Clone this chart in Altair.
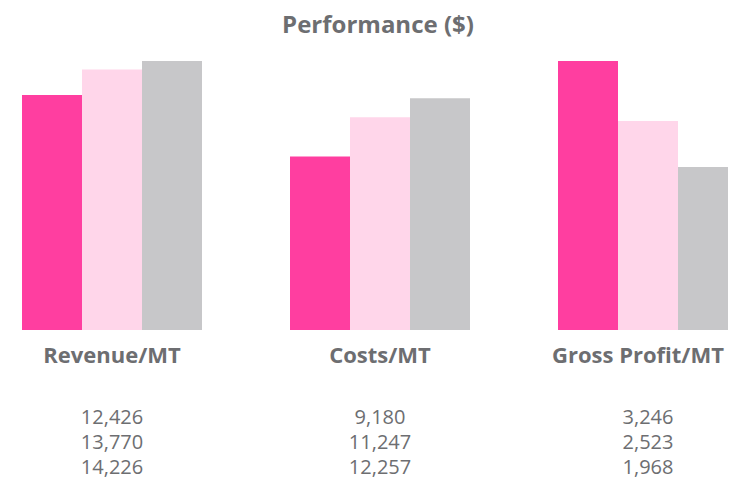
import altair as alt
import pandas as pd

groups = ["Revenue/MT", "Costs/MT", "Gross Profit/MT"]
series = ["Series 1", "Series 2", "Series 3"]
revenue = [12426, 13770, 14226]
costs = [9180, 11247, 12257]
gross_profit = [3246, 2523, 1968]
colors = ["#FF3EA0", "#FFD6EA", "#C7C7C9"]

rows = []
for g, vals in zip(groups, [revenue, costs, gross_profit]):
    for s, v in zip(series, vals):
        rows.append({"group": g, "series": s, "value": v, "label": f"{v:,}"})
df = pd.DataFrame(rows)

FONT = "Open Sans"
TEXT = "#6D6E71"

base = alt.Chart(df)

x_enc = alt.X(
    "group:N",
    sort=groups,
    scale=alt.Scale(range=[14, 730], paddingInner=88 / 268, paddingOuter=0),
    axis=alt.Axis(
        title=None, domain=False, ticks=False, labelAngle=0,
        labelFont=FONT, labelFontSize=22, labelFontWeight="bold",
        labelColor=TEXT, labelPadding=15,
        labelOffset={"condition": {"test": "datum.value === 'Gross Profit/MT'", "value": -10}, "value": 0},
    ),
)
xoff = alt.XOffset("series:N", sort=series, scale=alt.Scale(paddingInner=0, paddingOuter=0))
color_enc = alt.Color("series:N", sort=series, scale=alt.Scale(domain=series, range=colors), legend=None)

bars_rc = base.transform_filter(
    alt.FieldOneOfPredicate(field="group", oneOf=groups[:2])
).mark_bar().encode(
    x=x_enc,
    xOffset=xoff,
    y=alt.Y("value:Q", scale=alt.Scale(zero=True, nice=False, range=[282, 13]), axis=None),
    color=color_enc,
)

bars_gp = base.transform_filter(
    alt.FieldEqualPredicate(field="group", equal=groups[2])
).mark_bar().encode(
    x=x_enc,
    xOffset=xoff,
    y=alt.Y("value:Q", scale=alt.Scale(zero=True, nice=False, range=[282, 13]), axis=None),
    color=color_enc,
)

values_text = base.mark_text(
    font=FONT, fontSize=20, color=TEXT, baseline="middle", align="center"
).encode(
    x=x_enc,
    y=alt.Y("series:N", sort=series, scale=alt.Scale(type="point", range=[370, 420], padding=0), axis=None),
    text="label:N",
)

chart = alt.layer(bars_rc, bars_gp, values_text).resolve_scale(
    y="independent"
).properties(
    width=720,
    height=282,
    background="white",
    autosize=alt.AutoSizeParams(type="none"),
    padding={"left": 0, "top": 40, "right": 0, "bottom": 151},
    title=alt.Title(
        "Performance ($)", font=FONT, fontSize=24, fontWeight="bold",
        color=TEXT, anchor="middle", dx=10, offset=10,
    ),
).configure_view(strokeWidth=0)

chart.save("out.html", embed_options={"renderer": "svg", "actions": False})
